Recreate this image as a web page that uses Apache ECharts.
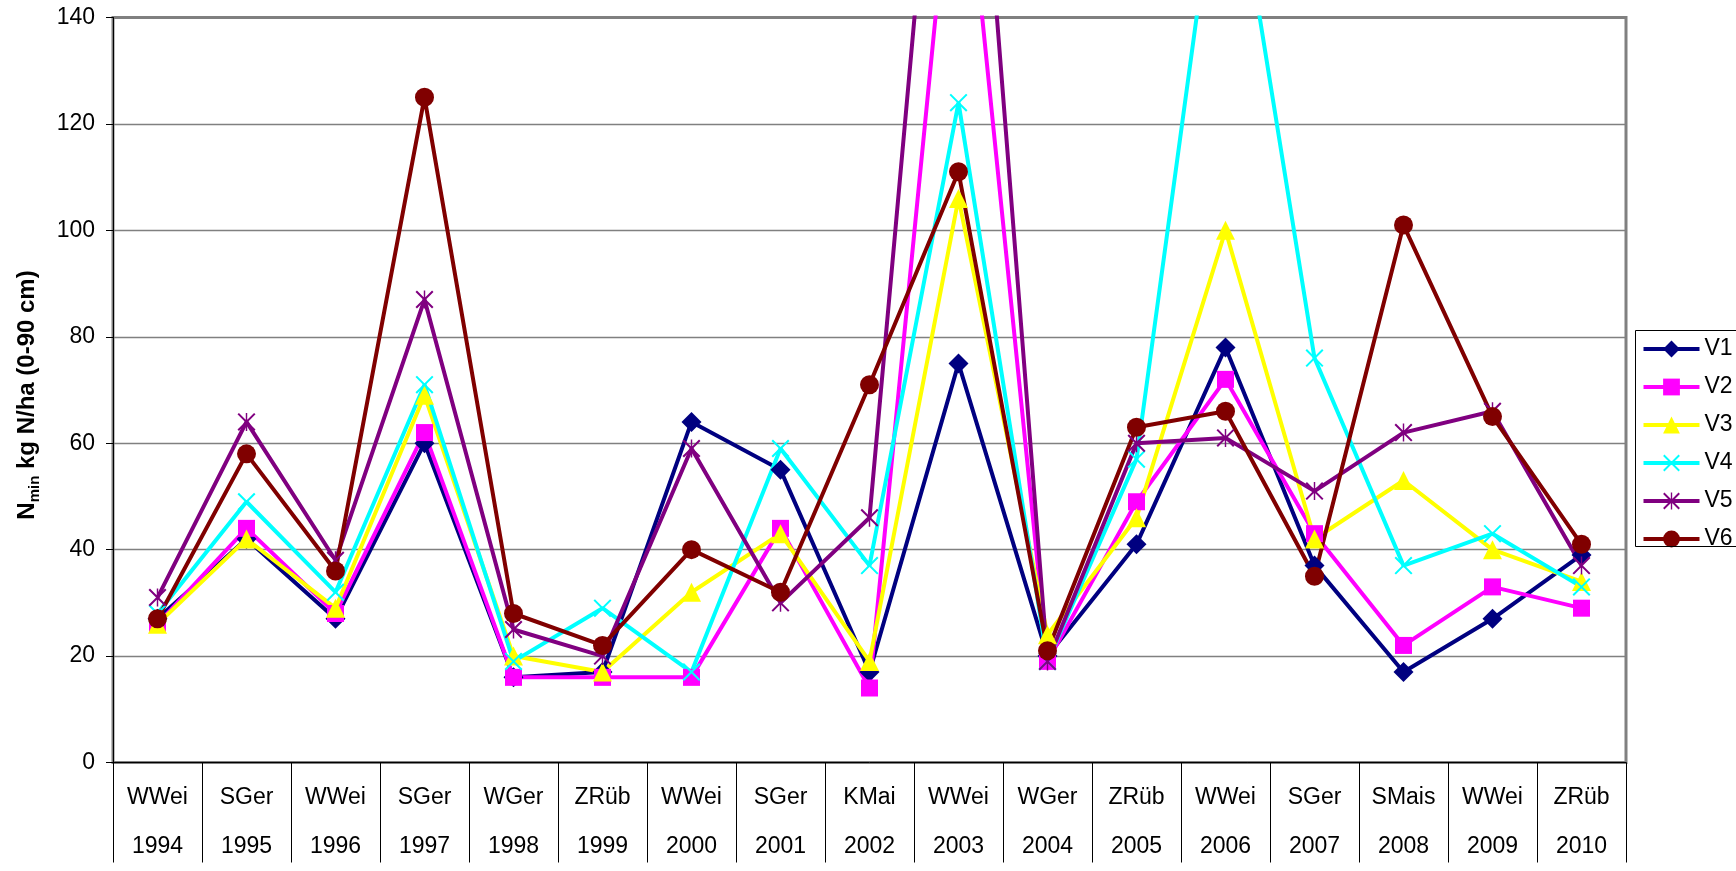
<!DOCTYPE html>
<html>
<head>
<meta charset="utf-8">
<script src="https://cdn.jsdelivr.net/npm/echarts@6/dist/echarts.min.js"></script>
<style>
  html, body { margin: 0; padding: 0; background: #fff; }
  #chart { width: 1736px; height: 871px; }
</style>
</head>
<body>
<div id="chart"></div>
<script>
// Crop per season and the sampling year (two-row category labels)
const crops = ['WWei', 'SGer', 'WWei', 'SGer', 'WGer', 'ZRüb', 'WWei', 'SGer', 'KMai',
               'WWei', 'WGer', 'ZRüb', 'WWei', 'SGer', 'SMais', 'WWei', 'ZRüb'];
const years = ['1994', '1995', '1996', '1997', '1998', '1999', '2000', '2001', '2002',
               '2003', '2004', '2005', '2006', '2007', '2008', '2009', '2010'];

// Nmin, kg N/ha in 0-90 cm, per variant
const v1 = [27, 42, 27, 60, 16, 17, 64, 55, 17, 75, 20, 41, 78, 37, 17, 27, 39];
const v2 = [26, 44, 28, 62, 16, 16, 16, 44, 14, 184, 19, 49, 72, 43, 22, 33, 29];
const v3 = [26, 42, 29, 69, 20, 17, 32, 43, 19, 106, 24, 46, 100, 42, 53, 40, 34];
const v4 = [28, 49, 32, 71, 19, 29, 17, 59, 37, 124, 19, 57, 180, 76, 37, 43, 33];
const v5 = [31, 64, 38, 87, 25, 20, 59, 30, 46, 232, 19, 60, 61, 51, 62, 66, 37];
const v6 = [27, 58, 36, 125, 28, 22, 40, 32, 71, 111, 21, 63, 66, 35, 101, 65, 41];

const yTicks = { min: 0, max: 140, step: 20 };

const FONT = '"Liberation Sans", Arial, sans-serif';

// Thin "x" marker and asterisk marker, built as filled outlines
const SYM_X = 'path://M0,8 L8,0 L100,92 L92,100 Z M8,100 L0,92 L92,0 L100,8 Z';
const SYM_STAR = 'path://M0,8 L8,0 L100,92 L92,100 Z M8,100 L0,92 L92,0 L100,8 Z M46,0 L54,0 L54,100 L46,100 Z';

const variants = [
  { name: 'V1', data: v1, color: '#000080', symbol: 'diamond', size: 20 },
  { name: 'V2', data: v2, color: '#FF00FF', symbol: 'rect', size: 17 },
  { name: 'V3', data: v3, color: '#FFFF00', symbol: 'triangle', size: 19 },
  { name: 'V4', data: v4, color: '#00FFFF', symbol: SYM_X, size: 18 },
  { name: 'V5', data: v5, color: '#800080', symbol: SYM_STAR, size: 18 },
  { name: 'V6', data: v6, color: '#800000', symbol: 'circle', size: 19 }
];

const chart = echarts.init(document.getElementById('chart'), null, { renderer: 'canvas' });

chart.setOption({
  animation: false,
  backgroundColor: '#ffffff',
  textStyle: { fontFamily: FONT },
  grid: {
    left: 113, top: 17.5, width: 1513, height: 755.5,
    show: true, borderColor: '#808080', borderWidth: 3, backgroundColor: 'transparent'
  },
  legend: {
    orient: 'vertical',
    left: 1641.5, top: 337.5,
    padding: 0,
    itemWidth: 56, itemHeight: 21, itemGap: 15,
    lineStyle: { width: 4 },
    textStyle: { fontSize: 23, color: '#000', fontFamily: FONT, lineHeight: 21 },
    data: variants.map(v => v.name)
  },
  xAxis: {
    type: 'category',
    data: years,
    boundaryGap: true,
    axisLine: { show: true, lineStyle: { color: '#000', width: 1 } },
    axisTick: { show: true, interval: 0, length: 100, lineStyle: { color: '#000', width: 1 } },
    axisLabel: {
      interval: 0, fontSize: 23, color: '#000', fontFamily: FONT,
      lineHeight: 49, margin: 10.5,
      formatter: (val, idx) => crops[idx] + '\n' + val
    },
    splitLine: { show: false }
  },
  yAxis: {
    type: 'value',
    min: yTicks.min, max: yTicks.max, interval: yTicks.step,
    axisLine: { show: true, lineStyle: { color: '#000', width: 1 } },
    axisTick: { show: true, inside: false, length: 7, lineStyle: { color: '#000', width: 1 } },
    axisLabel: { fontSize: 23, color: '#000', fontFamily: FONT, margin: 18 },
    splitLine: { show: true, lineStyle: { color: '#808080', width: 1.3 } }
  },
  graphic: [
    {
      type: 'text',
      x: 27, y: 395,
      rotation: Math.PI / 2,
      style: {
        text: '{b|N}{s|min}{b| kg N/ha (0-90 cm)}',
        align: 'center', verticalAlign: 'middle',
        fill: '#000',
        rich: {
          b: { fontSize: 24, fontWeight: 'bold', fontFamily: FONT, lineHeight: 30, verticalAlign: 'middle' },
          s: { fontSize: 15, fontWeight: 'bold', fontFamily: FONT, lineHeight: 30, verticalAlign: 'bottom' }
        }
      }
    },
    {
      type: 'rect',
      shape: { x: 1635.5, y: 330.5, width: 130, height: 216 },
      style: { fill: 'none', stroke: '#000', lineWidth: 1 },
      z: 10
    }
  ],
  series: variants.map(v => ({
    name: v.name,
    type: 'line',
    data: v.data,
    symbol: v.symbol,
    symbolSize: v.size,
    showAllSymbol: true,
    clip: true,
    lineStyle: { color: v.color, width: 4 },
    itemStyle: { color: v.color, borderWidth: 0 },
    emphasis: { disabled: true }
  }))
});
</script>
</body>
</html>
